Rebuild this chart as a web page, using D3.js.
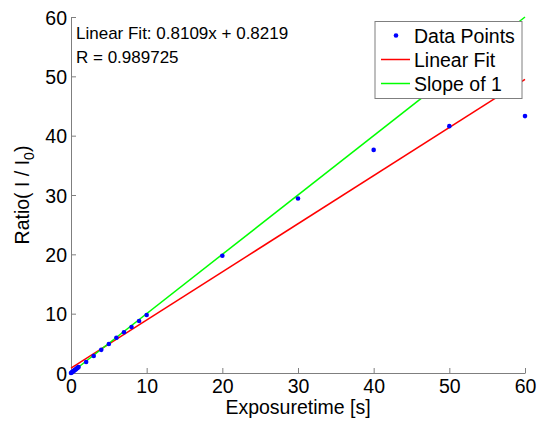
<!DOCTYPE html>
<html>
<head>
<meta charset="utf-8">
<script src="https://cdn.jsdelivr.net/npm/d3@7"></script>
<style>
  body { margin: 0; background: #fff; }
  svg text { font-family: "Liberation Sans", Arial, sans-serif; fill: #000; }
</style>
</head>
<body>
<svg id="chart" width="543" height="423"></svg>
<script>
const exposure = [0, 0.1, 0.2, 0.3, 0.4, 0.5, 0.6, 0.7, 0.8, 0.9, 1, 2, 3, 4, 5, 6, 7, 8, 9, 10, 20, 30, 40, 50, 60];
const ratio = [0, 0.1, 0.2, 0.3, 0.4, 0.5, 0.6, 0.7, 0.8, 0.9, 1.0, 1.85, 2.87, 3.9, 4.9, 5.95, 6.86, 7.75, 8.76, 9.78, 19.77, 29.4, 37.6, 41.6, 43.3];
const fitSlope = 0.8109;
const fitIntercept = 0.8219;
const fitR = 0.989725;
const xTicks = [0, 10, 20, 30, 40, 50, 60];
const yTicks = [0, 10, 20, 30, 40, 50, 60];
const legendLabels = ['Data Points', 'Linear Fit', 'Slope of 1'];

const margin = {left: 71, right: 18, top: 17, bottom: 50};
const svg = d3.select('#chart');
const W = +svg.attr('width'), H = +svg.attr('height');

const x = d3.scaleLinear().domain([0, 60]).range([margin.left, W - margin.right]);
const y = d3.scaleLinear().domain([0, 60]).range([H - margin.bottom, margin.top]);

const axisColor = '#7f7f7f';
const fontAxis = 19.5;

// axes (no box, ticks pointing in)
const gx = svg.append('g')
  .attr('transform', `translate(0,${y(0)})`)
  .call(d3.axisBottom(x).tickValues(xTicks).tickSizeInner(-5).tickSizeOuter(0).tickPadding(6));
const gy = svg.append('g')
  .attr('transform', `translate(${x(0)},0)`)
  .call(d3.axisLeft(y).tickValues(yTicks).tickSizeInner(-5).tickSizeOuter(0).tickPadding(4));

[gx, gy].forEach(g => {
  g.select('.domain').attr('stroke', axisColor).attr('stroke-width', 1);
  g.selectAll('.tick line').attr('stroke', axisColor);
  g.selectAll('.tick text').attr('font-size', fontAxis).attr('font-family', '"Liberation Sans", Arial, sans-serif');
});
gy.selectAll('.tick text').attr('dy', '0.36em');

// lines
const fitLine = d3.line().x(d => x(d)).y(d => y(fitSlope * d + fitIntercept));
const oneLine = d3.line().x(d => x(d)).y(d => y(d));
const ends = [0, 60];

svg.append('path').attr('d', fitLine(ends))
  .attr('stroke', '#ff0000').attr('stroke-width', 1.5).attr('fill', 'none');
svg.append('path').attr('d', oneLine(ends))
  .attr('stroke', '#00ff00').attr('stroke-width', 1.5).attr('fill', 'none');

// data points
svg.append('g').selectAll('circle')
  .data(exposure)
  .join('circle')
  .attr('cx', d => x(d))
  .attr('cy', (d, i) => y(ratio[i]))
  .attr('r', 2.3)
  .attr('fill', '#0000ff');

// fit annotation
svg.append('text').attr('x', 76).attr('y', 38.5).attr('font-size', 17)
  .text(`Linear Fit: ${fitSlope}x + ${fitIntercept}`);
svg.append('text').attr('x', 76).attr('y', 63).attr('font-size', 17)
  .text(`R = ${fitR}`);

// axis labels
svg.append('text').attr('x', (x(0) + x(60)) / 2).attr('y', 414)
  .attr('text-anchor', 'middle').attr('font-size', fontAxis)
  .text('Exposuretime [s]');

const ylab = svg.append('text')
  .attr('transform', `translate(29,${(y(0) + y(60)) / 2}) rotate(-90)`)
  .attr('text-anchor', 'middle').attr('font-size', fontAxis);
ylab.append('tspan').text('Ratio( I / I');
ylab.append('tspan').attr('font-size', 14).attr('dy', 5).text('0');
ylab.append('tspan').attr('dy', -5).text(')');

// legend
const lg = svg.append('g');
lg.append('rect').attr('x', 375).attr('y', 21.5).attr('width', 147).attr('height', 77)
  .attr('fill', '#fff').attr('stroke', axisColor).attr('stroke-width', 1);
const rowY = [35.5, 59.5, 83.5];
legendLabels.forEach((lab, i) => {
  if (i === 0) {
    lg.append('circle').attr('cx', 396).attr('cy', rowY[i]).attr('r', 2.3).attr('fill', '#0000ff');
  } else {
    lg.append('line').attr('x1', 381).attr('x2', 410).attr('y1', rowY[i]).attr('y2', rowY[i])
      .attr('stroke', i === 1 ? '#ff0000' : '#00ff00').attr('stroke-width', 1.5);
  }
  lg.append('text').attr('x', 414).attr('y', rowY[i] + 7.5)
    .attr('font-size', fontAxis).text(lab);
});
</script>
</body>
</html>
